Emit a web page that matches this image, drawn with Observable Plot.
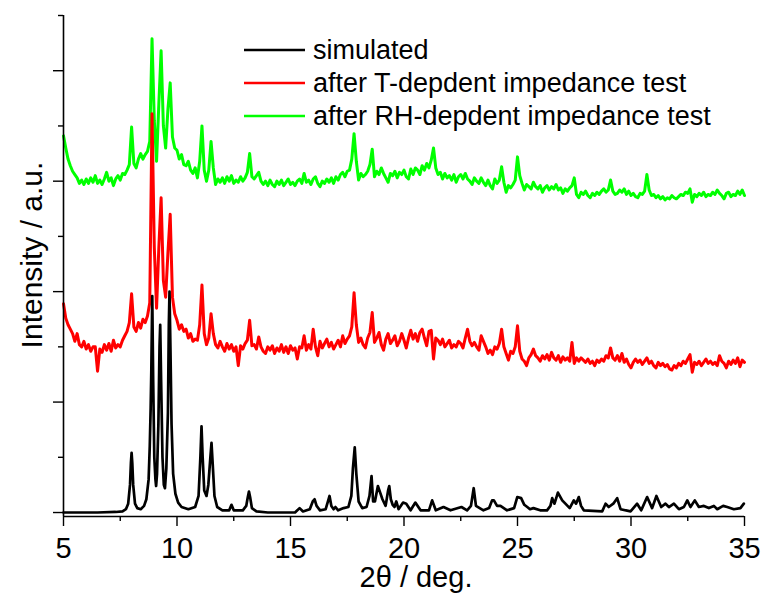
<!DOCTYPE html>
<html>
<head>
<meta charset="utf-8">
<script src="https://cdn.jsdelivr.net/npm/d3@7"></script>
<script src="https://cdn.jsdelivr.net/npm/@observablehq/plot@0.6"></script>
<style>
  html, body { margin: 0; padding: 0; background: #fff; }
  #chart { width: 765px; height: 596px; }
</style>
</head>
<body>
<div id="chart"></div>
<script>
// ---- data (2θ in degrees, intensity in stacked arbitrary units) ----
const seriesNames = ["simulated", "after T-depdent impedance test", "after RH-depdent impedance test"];
const seriesColors = ["#000000", "#ff0000", "#00ff00"];

const xMajorTicks = [5, 10, 15, 20, 25, 30, 35];
const xMinorTicks = [7.5, 12.5, 17.5, 22.5, 27.5, 32.5];
const yMajorTicks = [0, 1, 2, 3, 4];
const yMinorTicks = [0.5, 1.5, 2.5, 3.5, 4.5];
const xDomain = [5, 35];
const yDomain = [-0.036, 4.5];

// simulated pattern
const simX = [5.0,6.5,7.3,7.6,7.75,7.85,7.93,7.97,8.0,8.03,8.07,8.15,8.25,8.4,8.55,8.65,8.75,8.8,8.84,8.87,8.91,8.95,9.0,9.05,9.08,9.12,9.18,9.23,9.26,9.3,9.36,9.42,9.47,9.53,9.6,9.64,9.67,9.71,9.76,9.83,9.93,10.05,10.2,10.5,10.8,10.95,11.03,11.08,11.13,11.2,11.3,11.38,11.47,11.52,11.57,11.65,11.77,12.0,12.3,12.4,12.5,12.9,13.05,13.12,13.17,13.22,13.3,13.5,14.0,15.2,15.4,15.55,15.85,15.98,16.06,16.15,16.3,16.55,16.65,16.72,16.8,16.9,16.98,17.1,17.34,17.55,17.68,17.75,17.83,17.9,18.0,18.16,18.35,18.48,18.57,18.64,18.72,18.85,18.95,19.05,19.19,19.3,19.35,19.42,19.5,19.58,19.66,19.76,19.96,20.1,20.29,20.5,20.73,21.1,21.24,21.4,21.74,22.05,22.53,22.78,22.95,23.07,23.17,23.5,23.75,23.88,23.96,24.1,24.25,24.54,24.85,24.99,25.16,25.3,25.43,25.55,25.7,26.0,26.3,26.45,26.53,26.63,26.78,26.97,27.11,27.3,27.48,27.58,27.7,27.8,27.92,28.73,28.88,29.02,29.22,29.39,29.54,29.98,30.27,30.45,30.71,30.93,31.12,31.33,31.52,31.67,31.89,32.11,32.33,32.48,32.62,32.81,32.99,33.21,33.43,33.65,33.8,34.06,34.24,34.53,34.82,34.97];
const simY = [0,0,0.005,0.01,0.03,0.08,0.25,0.45,0.54,0.45,0.25,0.08,0.04,0.03,0.06,0.12,0.3,0.6,0.95,1.3,1.96,1.2,0.5,0.3,0.24,0.35,0.8,1.5,1.70,1.2,0.5,0.25,0.22,0.4,0.9,1.7,2.0,1.5,0.8,0.35,0.17,0.09,0.05,0.03,0.05,0.15,0.5,0.78,0.5,0.2,0.15,0.25,0.5,0.63,0.45,0.15,0.05,0.02,0.02,0.07,0.02,0.02,0.06,0.14,0.19,0.14,0.04,0.01,0.0,0.0,0.04,0.01,0.03,0.1,0.12,0.06,0.02,0.03,0.1,0.15,0.06,0.03,0.05,0.02,0.04,0.05,0.15,0.4,0.59,0.35,0.1,0.04,0.05,0.15,0.33,0.1,0.1,0.24,0.18,0.12,0.06,0.2,0.24,0.12,0.07,0.05,0.1,0.03,0.09,0.08,0.02,0.09,0.02,0.02,0.11,0.02,0.05,0.02,0.05,0.02,0.06,0.22,0.06,0.02,0.04,0.11,0.11,0.06,0.06,0.02,0.04,0.14,0.13,0.07,0.05,0.03,0.04,0.02,0.02,0.06,0.13,0.08,0.18,0.11,0.08,0.04,0.11,0.08,0.14,0.06,0.02,0.01,0.08,0.05,0.08,0.13,0.03,0.01,0.08,0.02,0.14,0.04,0.15,0.05,0.08,0.05,0.08,0.03,0.05,0.11,0.05,0.11,0.05,0.06,0.04,0.06,0.03,0.06,0.05,0.03,0.04,0.08];

// measured scans share one angle grid
const scanX = [5.0,5.1,5.2,5.3,5.4,5.5,5.6,5.7,5.8,5.9,6.0,6.1,6.2,6.3,6.4,6.5,6.6,6.7,6.8,6.9,7.0,7.1,7.2,7.3,7.4,7.5,7.6,7.7,7.8,7.9,8.0,8.1,8.2,8.3,8.4,8.5,8.6,8.7,8.8,8.9,9.0,9.1,9.2,9.3,9.4,9.5,9.6,9.7,9.8,9.9,10.0,10.1,10.2,10.3,10.4,10.5,10.6,10.7,10.8,10.9,11.0,11.1,11.2,11.3,11.4,11.5,11.6,11.7,11.8,11.9,12.0,12.1,12.2,12.3,12.4,12.5,12.6,12.7,12.8,12.9,13.0,13.1,13.2,13.3,13.4,13.5,13.6,13.7,13.8,13.9,14.0,14.1,14.2,14.3,14.4,14.5,14.6,14.7,14.8,14.9,15.0,15.1,15.2,15.3,15.4,15.5,15.6,15.7,15.8,15.9,16.0,16.1,16.2,16.3,16.4,16.5,16.6,16.7,16.8,16.9,17.0,17.1,17.2,17.3,17.4,17.5,17.6,17.7,17.8,17.9,18.0,18.1,18.2,18.3,18.4,18.5,18.6,18.7,18.8,18.9,19.0,19.1,19.2,19.3,19.4,19.5,19.6,19.7,19.8,19.9,20.0,20.1,20.2,20.3,20.4,20.5,20.6,20.7,20.8,20.9,21.0,21.1,21.2,21.3,21.4,21.5,21.6,21.7,21.8,21.9,22.0,22.1,22.2,22.3,22.4,22.5,22.6,22.7,22.8,22.9,23.0,23.1,23.2,23.3,23.4,23.5,23.6,23.7,23.8,23.9,24.0,24.1,24.2,24.3,24.4,24.5,24.6,24.7,24.8,24.9,25.0,25.1,25.2,25.3,25.4,25.5,25.6,25.7,25.8,25.9,26.0,26.1,26.2,26.3,26.4,26.5,26.6,26.7,26.8,26.9,27.0,27.1,27.2,27.3,27.4,27.5,27.6,27.7,27.8,27.9,28.0,28.1,28.2,28.3,28.4,28.5,28.6,28.7,28.8,28.9,29.0,29.1,29.2,29.3,29.4,29.5,29.6,29.7,29.8,29.9,30.0,30.1,30.2,30.3,30.4,30.5,30.6,30.7,30.8,30.9,31.0,31.1,31.2,31.3,31.4,31.5,31.6,31.7,31.8,31.9,32.0,32.1,32.2,32.3,32.4,32.5,32.6,32.7,32.8,32.9,33.0,33.1,33.2,33.3,33.4,33.5,33.6,33.7,33.8,33.9,34.0,34.1,34.2,34.3,34.4,34.5,34.6,34.7,34.8,34.9,35.0];

// after T-dependent impedance test (offset 1.5)
const tY = [1.89,1.76,1.70,1.66,1.62,1.55,1.62,1.52,1.50,1.55,1.48,1.52,1.46,1.50,1.50,1.28,1.48,1.45,1.52,1.47,1.53,1.46,1.56,1.49,1.52,1.50,1.56,1.60,1.64,1.72,1.98,1.68,1.64,1.72,1.67,1.75,1.72,1.78,1.90,3.61,2.40,1.85,2.40,2.85,2.10,1.95,2.35,2.70,1.95,1.80,1.74,1.66,1.70,1.64,1.66,1.58,1.62,1.55,1.57,1.56,1.70,2.06,1.62,1.52,1.58,1.80,1.62,1.52,1.49,1.55,1.50,1.46,1.53,1.48,1.52,1.46,1.50,1.33,1.51,1.48,1.53,1.56,1.74,1.51,1.52,1.48,1.59,1.50,1.46,1.44,1.50,1.47,1.51,1.44,1.49,1.46,1.52,1.45,1.50,1.44,1.51,1.47,1.49,1.39,1.50,1.49,1.60,1.47,1.52,1.48,1.66,1.50,1.42,1.55,1.49,1.53,1.57,1.50,1.54,1.48,1.52,1.56,1.50,1.60,1.53,1.57,1.60,1.68,1.99,1.70,1.54,1.58,1.52,1.49,1.58,1.63,1.81,1.54,1.58,1.63,1.52,1.47,1.57,1.62,1.53,1.56,1.60,1.51,1.55,1.62,1.56,1.49,1.58,1.65,1.57,1.62,1.55,1.63,1.66,1.58,1.51,1.64,1.65,1.39,1.58,1.56,1.52,1.57,1.50,1.53,1.56,1.49,1.52,1.50,1.55,1.53,1.49,1.58,1.66,1.55,1.51,1.54,1.50,1.47,1.60,1.55,1.50,1.44,1.47,1.43,1.50,1.48,1.53,1.66,1.50,1.44,1.38,1.46,1.44,1.50,1.69,1.46,1.39,1.37,1.33,1.40,1.43,1.48,1.42,1.40,1.37,1.42,1.39,1.43,1.38,1.45,1.40,1.38,1.42,1.36,1.41,1.38,1.40,1.37,1.54,1.35,1.40,1.37,1.40,1.38,1.36,1.39,1.35,1.37,1.33,1.38,1.36,1.39,1.37,1.42,1.40,1.49,1.40,1.38,1.42,1.37,1.44,1.36,1.39,1.34,1.31,1.36,1.39,1.36,1.38,1.34,1.37,1.40,1.35,1.37,1.33,1.31,1.36,1.33,1.35,1.32,1.34,1.30,1.29,1.33,1.31,1.35,1.33,1.37,1.35,1.39,1.43,1.27,1.36,1.34,1.37,1.33,1.36,1.39,1.35,1.37,1.34,1.36,1.33,1.42,1.37,1.35,1.31,1.37,1.34,1.38,1.35,1.40,1.32,1.38,1.36];

// after RH-dependent impedance test (offset 3)
const rhY = [3.41,3.30,3.20,3.14,3.09,3.06,3.03,2.98,3.01,2.97,3.02,2.98,3.03,2.99,3.05,2.98,3.01,2.97,3.02,3.08,3.00,3.03,2.96,3.02,3.05,3.01,3.07,3.06,3.10,3.15,3.49,3.16,3.12,3.20,3.25,3.20,3.24,3.27,3.36,4.29,3.55,3.18,3.70,4.18,3.50,3.30,3.65,3.89,3.40,3.30,3.28,3.20,3.24,3.15,3.14,3.18,3.10,3.07,3.12,3.03,3.18,3.50,3.10,3.00,3.10,3.36,3.12,2.97,3.02,2.99,3.03,2.98,3.04,3.00,3.05,2.98,3.01,2.99,3.04,3.00,3.03,3.08,3.25,3.04,3.02,3.05,3.08,3.00,2.97,3.00,2.96,3.01,2.97,2.95,3.00,2.97,3.01,2.96,2.99,3.02,2.97,2.99,2.96,3.00,3.02,2.98,3.07,2.99,3.01,2.97,3.02,3.04,2.98,2.95,3.00,2.98,3.02,2.99,3.03,2.98,3.04,3.01,3.06,3.08,3.04,3.09,3.10,3.20,3.43,3.18,3.01,3.07,3.04,3.06,3.09,3.15,3.29,3.04,3.09,3.06,3.12,3.07,3.03,2.99,3.07,3.05,3.09,3.03,3.08,3.06,3.10,3.04,3.02,3.11,3.06,3.12,3.10,3.06,3.14,3.10,3.16,3.12,3.19,3.30,3.12,3.06,3.08,3.02,3.07,3.03,3.05,3.01,3.06,2.99,3.04,3.06,3.02,3.07,3.02,3.00,2.97,3.03,3.00,2.98,3.03,2.99,2.96,3.01,2.96,2.93,3.02,2.98,3.01,3.13,2.99,2.90,2.96,2.94,2.97,3.01,3.22,3.05,2.98,2.92,2.97,2.95,2.93,2.99,2.95,2.93,2.96,2.90,2.94,2.96,2.92,2.95,2.93,2.97,2.92,2.94,2.89,2.93,2.91,2.94,2.96,3.03,2.88,2.85,2.90,2.88,2.91,2.87,2.85,2.89,2.87,2.90,2.88,2.91,2.93,2.90,2.92,3.01,2.91,2.88,2.89,2.92,2.90,2.93,2.88,2.91,2.87,2.89,2.86,2.85,2.89,2.88,2.91,3.06,2.92,2.87,2.88,2.85,2.87,2.84,2.86,2.83,2.85,2.84,2.87,2.85,2.84,2.86,2.88,2.87,2.90,2.89,2.93,2.81,2.88,2.86,2.89,2.87,2.90,2.86,2.88,2.87,2.90,2.88,2.92,2.89,2.87,2.84,2.89,2.90,2.86,2.88,2.87,2.91,2.88,2.92,2.87];

// ---- build tables ----
const toRows = (xs, ys) => xs.map((x, i) => ({x, y: ys[i]}));
const simRows = toRows(simX, simY);
const tRows = toRows(scanX, tY);
const rhRows = toRows(scanX, rhY);

const FONT = "'Liberation Sans', Arial, Helvetica, sans-serif";

const plot = Plot.plot({
  width: 765,
  height: 596,
  marginLeft: 63,
  marginRight: 21,
  marginTop: 15,
  marginBottom: 80,
  style: {fontFamily: FONT, background: "#fff", color: "#000", overflow: "visible"},
  x: {domain: xDomain, axis: null},
  y: {domain: yDomain, axis: null},
  marks: [
    Plot.line(rhRows, {x: "x", y: "y", stroke: seriesColors[2], strokeWidth: 3, strokeLinejoin: "round"}),
    Plot.line(tRows, {x: "x", y: "y", stroke: seriesColors[1], strokeWidth: 3, strokeLinejoin: "round"}),
    Plot.line(simRows, {x: "x", y: "y", stroke: seriesColors[0], strokeWidth: 2.7, strokeLinejoin: "round"}),
    // axis lines
    Plot.ruleX([xDomain[0]], {stroke: "#000", strokeWidth: 1.6}),
    Plot.ruleY([yDomain[0]], {stroke: "#000", strokeWidth: 1.6}),
    // x ticks
    Plot.axisX(xMajorTicks, {tickSize: 10, tickPadding: 11, fontSize: 29, label: null, strokeWidth: 1.4}),
    Plot.axisX(xMinorTicks, {tickSize: 5, tickFormat: () => "", label: null, strokeWidth: 1.4}),
    // y ticks (no labels)
    Plot.axisY(yMajorTicks, {tickSize: 10, tickFormat: () => "", label: null, strokeWidth: 1.4}),
    Plot.axisY(yMinorTicks, {tickSize: 5, tickFormat: () => "", label: null, strokeWidth: 1.4})
  ]
});

document.getElementById("chart").appendChild(plot);

// ---- titles and legend (layout only) ----
const svg = d3.select(plot);

svg.append("text")
  .attr("x", 416).attr("y", 587)
  .attr("text-anchor", "middle")
  .attr("font-family", FONT).attr("font-size", 29).attr("fill", "#000")
  .text("2θ / deg.");

svg.append("text")
  .attr("transform", "translate(42,255) rotate(-90)")
  .attr("text-anchor", "middle")
  .attr("font-family", FONT).attr("font-size", 30).attr("fill", "#000")
  .text("Intensity / a.u.");

const legend = svg.append("g");
seriesNames.forEach((name, i) => {
  const ly = 50 + i * 33;
  legend.append("line")
    .attr("x1", 244).attr("x2", 305).attr("y1", ly).attr("y2", ly)
    .attr("stroke", seriesColors[i]).attr("stroke-width", 2.5);
  legend.append("text")
    .attr("x", 313).attr("y", ly + 9)
    .attr("text-anchor", "start")
    .attr("font-family", FONT).attr("font-size", 27).attr("fill", "#000")
    .text(name);
});
</script>
</body>
</html>
